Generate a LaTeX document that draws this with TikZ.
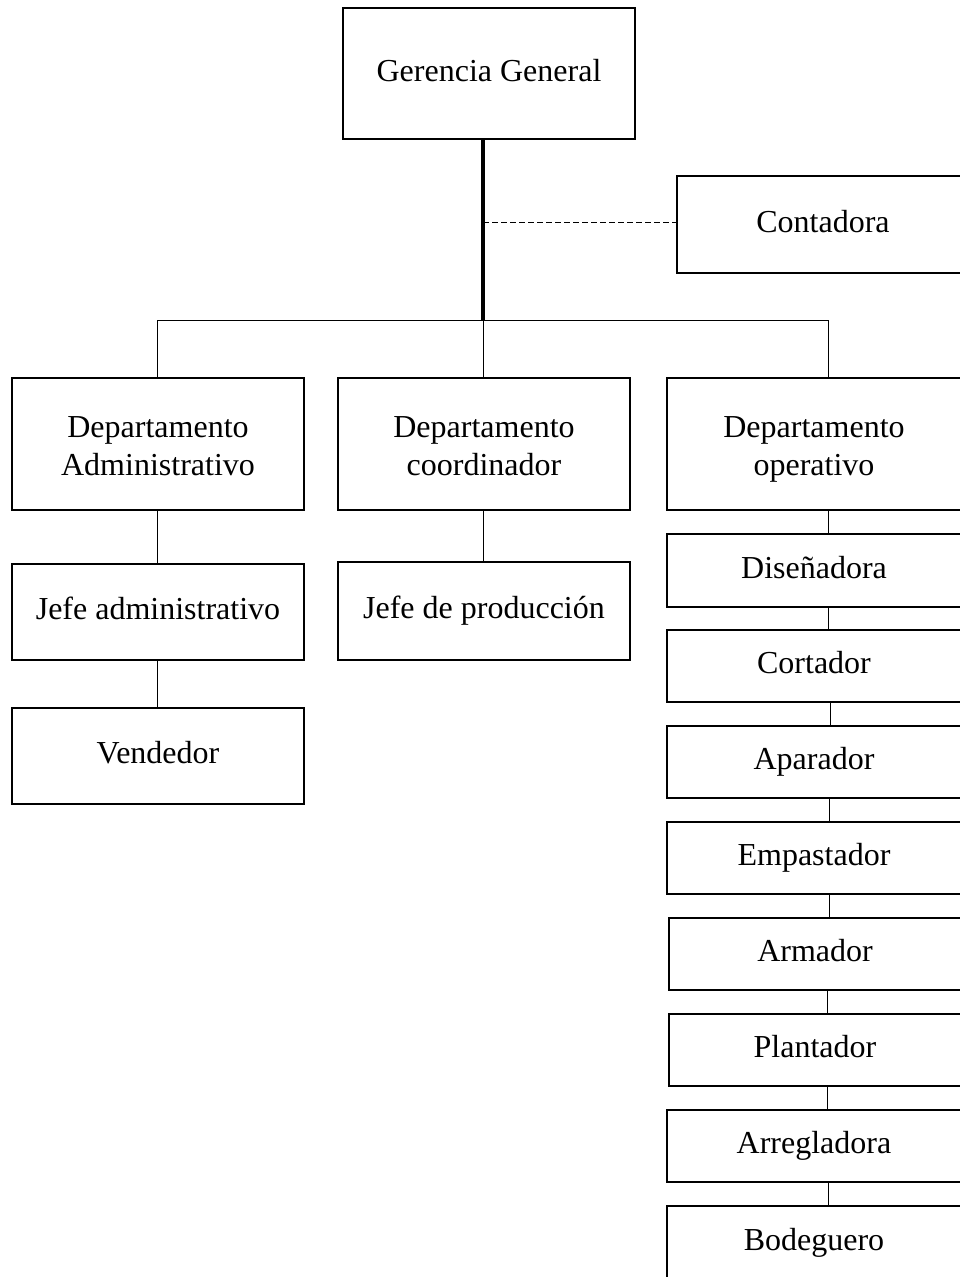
\documentclass[tikz,border=0pt]{standalone}
\usepackage{fontspec}
\setmainfont{Liberation Serif}
\usepackage{tikz}
\usetikzlibrary{positioning, calc}

\begin{document}
\begin{tikzpicture}[x=1pt, y=-1pt,
  puesto/.style={draw, line width=1.2pt, rectangle, minimum width=292pt, align=center, font=\fontsize{32}{38}\selectfont, inner sep=0pt,
    execute at begin node=\strut, execute at end node=\strut},
  depto/.style={puesto, minimum height=132pt},
  linea/.style={line width=0.9pt}
]
  \useasboundingbox (0,0) rectangle (960,1277);

  % Top
  \node[puesto, minimum height=131pt] (gg) at (489, 73.5) {Gerencia General};
  \node[puesto, minimum height=97pt] (cont) at (823, 224.5) {Contadora};

  % Departments
  \node[depto] (dadm) at (158, 444) {\rule{0pt}{36pt}Departamento\\Administrativo};
  \node[depto] (dcoo) at (484, 444) {\rule{0pt}{36pt}Departamento\\coordinador};
  \node[depto, minimum width=294pt] (dope) at (814, 444) {\rule{0pt}{36pt}Departamento\\operativo};

  % Left and middle columns
  \node[puesto, minimum height=96pt] (jadm) at (158, 612) {Jefe administrativo};
  \node[puesto, minimum height=96pt] (vend) at (158, 756) {Vendedor};
  \node[puesto, minimum height=98pt] (jpro) at (484, 611) {Jefe de producción};

  % Right column
  \node[puesto, minimum height=73pt, minimum width=294pt] (dise) at (814, 570.5) {Diseñadora};
  \node[puesto, minimum height=72pt, minimum width=294pt] (cort) at (814, 666) {Cortador};
  \node[puesto, minimum height=72pt, minimum width=294pt] (apar) at (814, 762) {Aparador};
  \node[puesto, minimum height=72pt, minimum width=294pt] (empa) at (814, 858) {Empastador};
  \node[puesto, minimum height=72pt, minimum width=292pt] (arma) at (815, 954) {Armador};
  \node[puesto, minimum height=72pt, minimum width=292pt] (plan) at (815, 1050) {Plantador};
  \node[puesto, minimum height=72pt, minimum width=294pt] (arre) at (814, 1146) {Arregladora};
  \node[puesto, minimum height=74pt, minimum width=294pt] (bode) at (814, 1243) {Bodeguero};

  % Lines
  \coordinate (bus) at (483, 320);
  \coordinate (cjun) at (483, 222);
  \coordinate (dbus) at (828, 320);
  \draw[line width=4.5pt] (gg.south -| bus) -- (bus);
  \draw[linea, dash pattern=on 6pt off 3pt] (cjun) -- (cjun -| cont.west);
  \draw[linea] (dadm.north -| 157,0) |- (dbus) -- (dbus |- dope.north);
  \draw[linea] (bus) -- (bus |- dcoo.north);

  \draw[linea] (dadm.south -| 157,0) -- (jadm.north -| 157,0);
  \draw[linea] (jadm.south -| 157,0) -- (vend.north -| 157,0);
  \draw[linea] (dcoo.south -| bus) -- (jpro.north -| bus);

  \draw[linea] (dope.south -| 828,0) -- (dise.north -| 828,0);
  \draw[linea] (dise.south -| 828,0) -- (cort.north -| 828,0);
  \draw[linea] (cort.south -| 830,0) -- (apar.north -| 830,0);
  \draw[linea] (apar.south -| 829,0) -- (empa.north -| 829,0);
  \draw[linea] (empa.south -| 829,0) -- (arma.north -| 829,0);
  \draw[linea] (arma.south -| 827,0) -- (plan.north -| 827,0);
  \draw[linea] (plan.south -| 827,0) -- (arre.north -| 827,0);
  \draw[linea] (arre.south -| 828,0) -- (bode.north -| 828,0);

\end{tikzpicture}
\end{document}
